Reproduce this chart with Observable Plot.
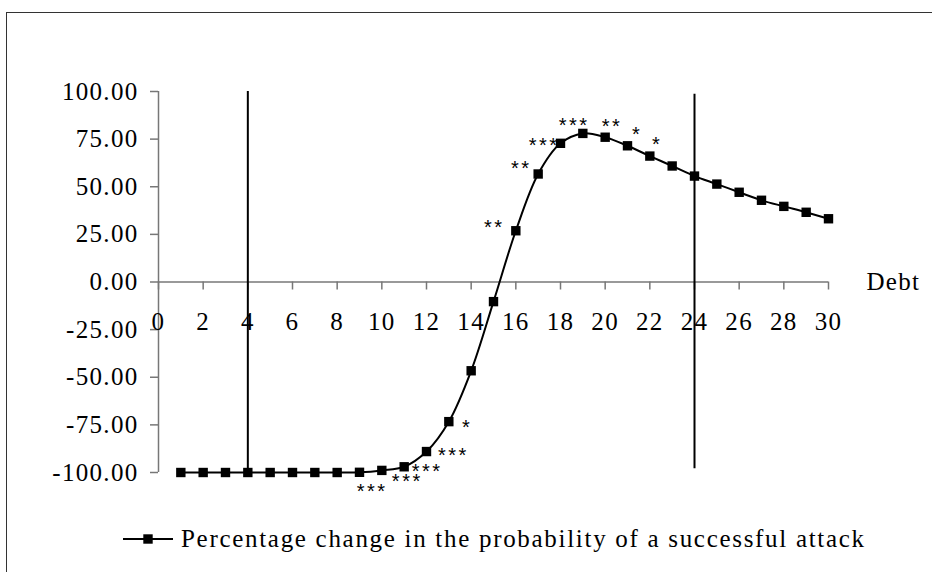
<!DOCTYPE html>
<html>
<head>
<meta charset="utf-8">
<script src="https://cdn.jsdelivr.net/npm/d3@7"></script>
<script src="https://cdn.jsdelivr.net/npm/@observablehq/plot@0.6"></script>
<style>
  html, body { margin: 0; padding: 0; background: #fff; }
  #wrap { position: relative; width: 932px; height: 572px; overflow: hidden; background: #fff; }
  #frame { position: absolute; left: 6px; top: 12px; width: 1000px; height: 700px;
           border-left: 1.5px solid #333; border-top: 1.5px solid #333; }
  #chart { position: absolute; left: 0; top: 0; }
  #legend { position: absolute; left: 123px; top: 524px; height: 30px; display: flex; align-items: center;
            font-family: "Liberation Serif", serif; font-size: 25px; letter-spacing: 1.7px; color: #000; white-space: nowrap; }
  #legend svg { margin-right: 6px; }
</style>
</head>
<body>
<div id="wrap">
  <div id="frame"></div>
  <div id="chart"></div>
  <div id="legend"></div>
</div>
<script>
// ---- data ----
const debt = [1,2,3,4,5,6,7,8,9,10,11,12,13,14,15,16,17,18,19,20,21,22,23,24,25,26,27,28,29,30];
const pctChange = [-100,-100,-100,-100,-100,-100,-100,-100,-99.9,-98.9,-97,-89,-73.3,-46.6,-10.3,26.9,56.7,72.8,78,76,71.5,66.1,60.9,55.6,51.4,47.1,42.9,39.7,36.6,33.2];
const yTicks = [-100,-75,-50,-25,0,25,50,75,100];
const xTicks = [0,2,4,6,8,10,12,14,16,18,20,22,24,26,28,30];
const xAxisLabel = "Debt";
const seriesName = "Percentage change in the probability of a successful attack";
const refLineX = [4, 24];
const refLineY1 = [-100, -98];
const refLineY2 = [100, 98.5];
const starX = [9.57, 11.14, 12.03, 13.2, 13.82, 15.03, 16.24, 17.27, 18.61, 20.31, 21.43, 22.33];
const starY = [-107.6, -102.4, -97.1, -88.7, -74.0, 31.0, 61.9, 74.0, 84.5, 84.0, 79.8, 74.5];
const starText = ["***","***","***","***","*","**","**","***","***","**","*","*"];

const series = debt.map((d, i) => ({debt: d, value: pctChange[i]}));
const refs = refLineX.map((x, i) => ({x, y1: refLineY1[i], y2: refLineY2[i]}));
const stars = starX.map((x, i) => ({x, y: starY[i], t: starText[i]}));

const axisColor = "#777";

const chart = Plot.plot({
  width: 932,
  height: 500,
  marginLeft: 158,
  marginRight: 104,
  marginTop: 91,
  marginBottom: 28,
  style: {fontFamily: "Liberation Serif, serif", fontSize: "25px", letterSpacing: "1.3px", background: "transparent", color: "#000", overflow: "visible"},
  x: {domain: [0, 30], axis: null},
  y: {domain: [-100, 100], ticks: yTicks, tickFormat: d => d.toFixed(2), tickSize: 8, tickPadding: 12, label: null},
  marks: [
    Plot.ruleY([0], {x1: 0, x2: 30, stroke: axisColor, strokeWidth: 1.5}),
    Plot.ruleX([0], {y1: -100, y2: 100, stroke: axisColor, strokeWidth: 1.5}),
    Plot.ruleX(xTicks, {x: d => d, y1: 0, y2: 0, insetBottom: -8, stroke: axisColor, strokeWidth: 1.5}),
    Plot.text(xTicks, {x: d => d, y: 0, text: d => String(d), dy: 40, fill: "#000"}),
    Plot.text([xAxisLabel], {x: 30, y: 0, text: d => d, textAnchor: "start", dx: 38, fill: "#000"}),
    Plot.ruleX(refs, {x: "x", y1: "y1", y2: "y2", stroke: "#000", strokeWidth: 2}),
    Plot.line(series, {x: "debt", y: "value", curve: "catmull-rom", stroke: "#000", strokeWidth: 2}),
    Plot.dot(series, {x: "debt", y: "value", symbol: "square", r: 5.3, fill: "#000", stroke: "none"}),
    Plot.text(stars, {x: "x", y: "y", text: "t", fontFamily: "Liberation Sans, sans-serif", fontSize: 20, dy: 5, fill: "#000"})
  ]
});
document.getElementById("chart").appendChild(chart);

// axis tick colour + asterisk spacing
d3.select(chart).selectAll('g[aria-label^="y-axis"] line, g[aria-label^="y-axis"] path')
  .attr("stroke", axisColor).attr("stroke-width", 1.5);
d3.select(chart).selectAll("text").filter(function() { return /^\*+$/.test(this.textContent); })
  .style("letter-spacing", "2.5px");

// legend
const lg = d3.select("#legend");
const ls = lg.append("svg").attr("width", 52).attr("height", 20);
ls.append("line").attr("x1", 0).attr("x2", 50).attr("y1", 10).attr("y2", 10).attr("stroke", "#000").attr("stroke-width", 2);
ls.append("rect").attr("x", 25 - 4.7).attr("y", 10 - 4.7).attr("width", 9.4).attr("height", 9.4).attr("fill", "#000");
lg.append("span").text(seriesName);
</script>
</body>
</html>
